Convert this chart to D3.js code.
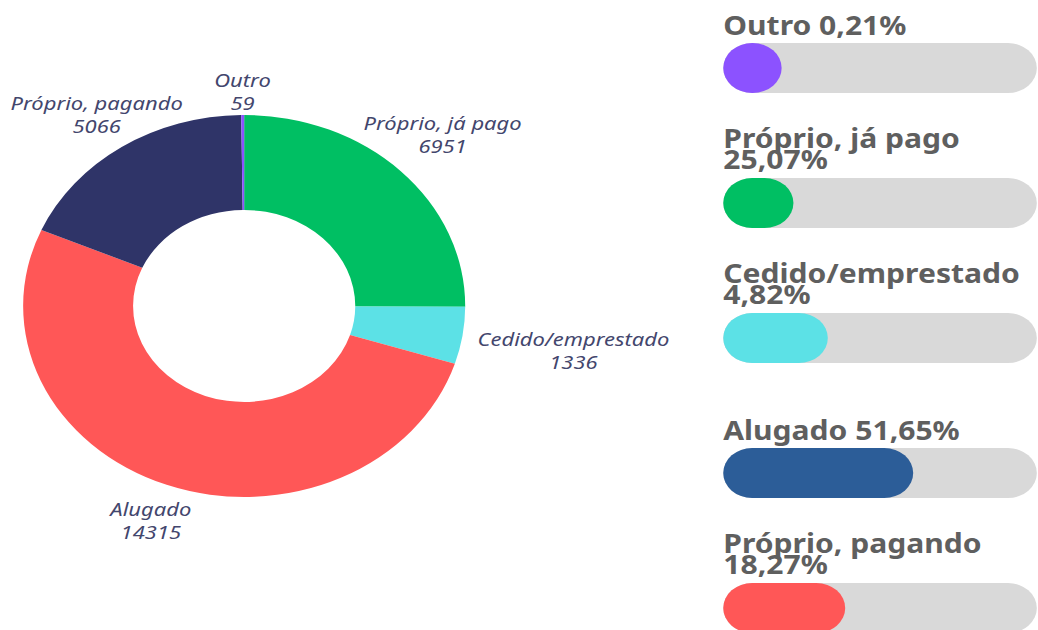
<!DOCTYPE html>
<html>
<head>
<meta charset="utf-8">
<script src="https://cdn.jsdelivr.net/npm/d3@7"></script>
<style>
  html, body { margin: 0; padding: 0; background: #fff; }
  #chart { width: 1038px; height: 630px; }
</style>
</head>
<body>
<div id="chart"></div>
<script>
// donut data, clockwise from 12 o'clock
const categories = ["Próprio, já pago", "Cedido/emprestado", "Alugado", "Próprio, pagando", "Outro"];
const counts = [6951, 1336, 14315, 5066, 59];
const sliceColors = ["#00bf63", "#5ce1e6", "#ff5757", "#2f3468", "#8c52ff"];

// progress bars on the right
const barLabels = ["Outro", "Próprio, já pago", "Cedido/emprestado", "Alugado", "Próprio, pagando"];
const barPct = [0.21, 25.07, 4.82, 51.65, 18.27];
// the filled length each bar shows in the source (not the same as its label)
const barFill = [0.21, 4.82, 18.27, 51.65, 25.07];
const barColors = ["#8c52ff", "#00bf63", "#5ce1e6", "#2c5d98", "#ff5757"];

// the source image is stretched horizontally, so draw in a narrower
// logical space and let the viewBox stretch it
const W = 897, H = 630;
const svg = d3.select("#chart")
    .append("svg")
    .attr("width", 1038)
    .attr("height", 630)
    .attr("viewBox", `0 0 ${W} ${H}`)
    .attr("preserveAspectRatio", "none");

const cx = 211, cy = 306, outerR = 191, innerR = 96;
const labelRadius = [242, 288, 230, 230, 214];

const pie = d3.pie().sort(null).value(d => d.count);
const arcs = pie(categories.map((c, i) => ({ name: c, count: counts[i], i })));
const arc = d3.arc().innerRadius(innerR).outerRadius(outerR);

const donut = svg.append("g").attr("transform", `translate(${cx},${cy})`);
donut.selectAll("path")
    .data(arcs)
    .join("path")
    .attr("d", arc)
    .attr("fill", d => sliceColors[d.data.i]);

const labels = donut.selectAll("text")
    .data(arcs)
    .join("text")
    .attr("transform", d => {
        const r = labelRadius[d.data.i];
        const p = d3.arc().innerRadius(r).outerRadius(r).centroid(d);
        return `translate(${p[0]},${p[1]})`;
    })
    .attr("text-anchor", "middle")
    .style("font-family", "'Noto Sans', sans-serif")
    .style("font-style", "italic")
    .style("font-size", "19px")
    .style("fill", "#43466d");
labels.append("tspan").attr("x", 0).attr("y", -5).text(d => d.data.name);
labels.append("tspan").attr("x", 0).attr("y", 18).text(d => d.data.count);

// bars
const fmt = d3.formatLocale({ decimal: ",", thousands: ".", grouping: [3], currency: ["", ""] }).format(".2f");
const trackX = 625, trackW = 271, trackH = 50;
const rowY = d3.scalePoint().domain(barLabels).range([43, 583]);
const fillX = d3.scaleLinear().domain([0, 100]).range([0, trackW - trackH]);

const rows = svg.append("g").selectAll("g")
    .data(barLabels)
    .join("g")
    .attr("transform", d => `translate(${trackX},${rowY(d)})`);

rows.append("rect")
    .attr("width", trackW)
    .attr("height", trackH)
    .attr("rx", trackH / 2)
    .attr("fill", "#d9d9d9");

rows.append("rect")
    .attr("width", (d, i) => trackH + fillX(barFill[i]))
    .attr("height", trackH)
    .attr("rx", trackH / 2)
    .attr("fill", (d, i) => barColors[i]);

const titles = rows.append("text")
    .style("font-family", "'Noto Sans', sans-serif")
    .style("font-weight", 700)
    .style("font-size", "26px")
    .style("fill", "#5f5f5f");

titles.each(function (d, i) {
    const t = d3.select(this);
    const pct = fmt(barPct[i]) + "%";
    if (d.length < 10) {
        t.append("tspan").attr("x", 0).attr("y", -8).text(d + " " + pct);
    } else {
        t.append("tspan").attr("x", 0).attr("y", -30).text(d);
        t.append("tspan").attr("x", 0).attr("y", -9).text(pct);
    }
});
</script>
</body>
</html>
